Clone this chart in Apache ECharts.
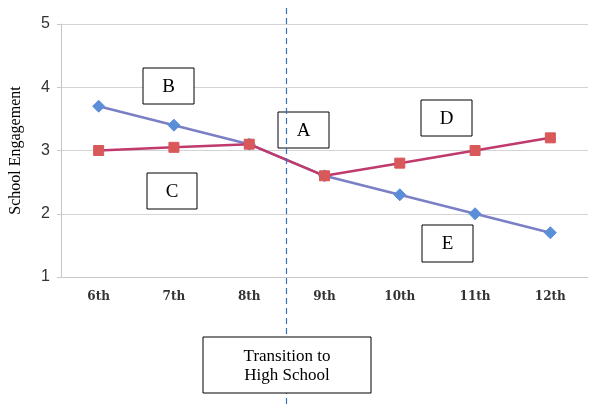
<!DOCTYPE html>
<html><head><meta charset="utf-8">
<script src="https://cdn.jsdelivr.net/npm/echarts@6/dist/echarts.min.js"></script>
<style>html,body{margin:0;padding:0;background:#fff}#c{width:601px;height:404px}</style>
</head><body><div id="c"></div>
<script>
const grades = ['6th','7th','8th','9th','10th','11th','12th'];
const seriesB = [3.7, 3.4, 3.1, 2.6, 2.3, 2.0, 1.7];
const seriesC = [3.0, 3.05, 3.1, 2.6, 2.8, 3.0, 3.2];
const yTicks = [1, 2, 3, 4, 5];
const boxLabels = ['B', 'C', 'A', 'D', 'E'];
const transitionLabel = 'Transition to\nHigh School';

const chart = echarts.init(document.getElementById('c'), null, {renderer: 'canvas'});
const serif = '"Liberation Serif","DejaVu Serif",serif';
function box(text, x, y, w, h, fs, z) {
  return {
    type: 'group', x: x, y: y, z: z || 40,
    children: [
      {type: 'rect', z: z || 40, shape: {x: 0, y: 0, width: w, height: h}, style: {fill: '#fff', stroke: '#000', lineWidth: 1}},
      {type: 'text', z: z || 40, x: w / 2, y: h / 2 + 1, style: {text: text, fill: '#000', font: fs + 'px ' + serif, align: 'center', verticalAlign: 'middle', lineHeight: fs + 2}}
    ]
  };
}
chart.setOption({
  animation: false,
  grid: {left: 57, right: 13, top: 24, bottom: 127},
  xAxis: {
    type: 'category', data: grades, boundaryGap: true,
    axisLine: {lineStyle: {color: '#c8c8c8'}},
    axisTick: {lineStyle: {color: '#c8c8c8'}, length: 4},
    axisLabel: {color: '#333', fontFamily: '"DejaVu Serif",serif', fontWeight: 'bold', fontSize: 12, margin: 14}
  },
  yAxis: {
    type: 'value', min: yTicks[0], max: yTicks[yTicks.length - 1], interval: 1,
    name: 'School Engagement', nameLocation: 'middle', nameGap: 37,
    nameTextStyle: {fontFamily: serif, fontSize: 16, color: '#000'},
    axisLine: {show: true, lineStyle: {color: '#c8c8c8'}},
    axisTick: {show: true, lineStyle: {color: '#c8c8c8'}, length: 4},
    axisLabel: {color: '#333', fontFamily: '"Liberation Sans",sans-serif', fontSize: 16, margin: 11},
    splitLine: {lineStyle: {color: '#d4d4d4', width: 1}}
  },
  series: [
    {type: 'line', data: seriesB, symbol: 'diamond', symbolSize: 12,
     lineStyle: {color: '#7b7fc4', width: 2.5}, itemStyle: {color: '#5a8fd8', borderColor: '#5a8fd8'}, z: 3},
    {type: 'line', data: seriesC, symbol: 'rect', symbolSize: 10,
     lineStyle: {color: '#c03a6c', width: 2.5}, itemStyle: {color: '#d9585a', borderColor: '#d9585a'}, z: 4}
  ],
  graphic: [
    box(boxLabels[0], 143, 68, 51, 36, 19),
    box(boxLabels[1], 147, 173, 50, 36, 19),
    box(boxLabels[2], 278, 112, 51, 36, 19),
    box(boxLabels[3], 421, 100, 51, 36, 19),
    box(boxLabels[4], 422, 225, 51, 37, 19),
    {type: 'line', z: 60, shape: {x1: 286.5, y1: 8, x2: 286.5, y2: 404},
     style: {stroke: '#3a6fb5', lineWidth: 1.2, lineDash: [6, 4]}},
    box(transitionLabel, 203, 337, 168, 56, 17, 100)
  ]
});
</script></body></html>
